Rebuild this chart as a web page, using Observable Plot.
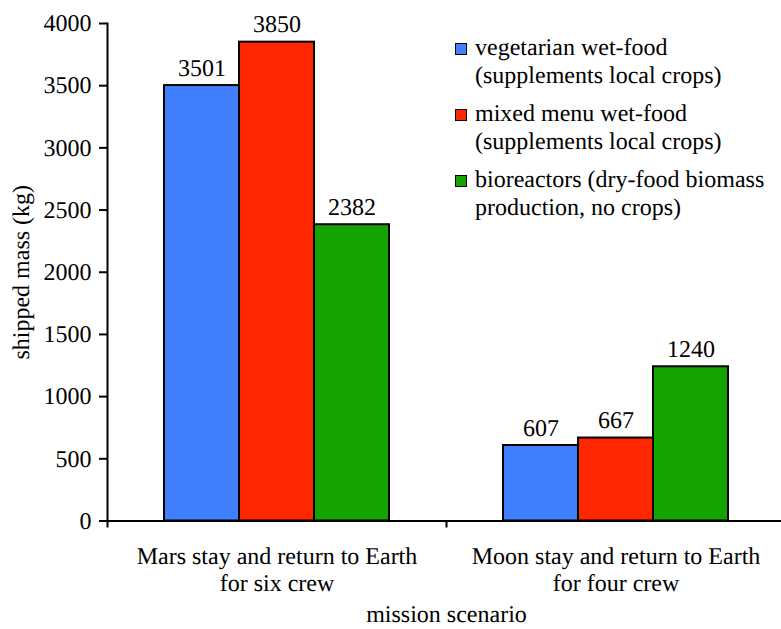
<!DOCTYPE html>
<html>
<head>
<meta charset="utf-8">
<script src="https://cdn.jsdelivr.net/npm/d3@7"></script>
<script src="https://cdn.jsdelivr.net/npm/@observablehq/plot@0.6"></script>
<style>
  html, body { margin: 0; padding: 0; background: #fff; }
  #wrap { position: relative; width: 781px; height: 629px; overflow: hidden; font-family: "Liberation Serif", "Times New Roman", serif; text-rendering: geometricPrecision; }
  #wrap svg, #wrap svg text { text-rendering: geometricPrecision; }
  #legend { position: absolute; left: 455px; top: 34px; font-size: 24px; line-height: 28px; color: #000; }
  .item { position: relative; padding-left: 20px; margin-bottom: 10px; white-space: pre; }
  .sw { position: absolute; left: 0; top: 9px; width: 10px; height: 10px; border: 1.5px solid #000; }
</style>
</head>
<body>
<div id="wrap"><div id="legend"></div></div>
<script>
// Data
const scenarios = ["Mars stay and return to Earth\nfor six crew", "Moon stay and return to Earth\nfor four crew"];
const series = ["vegetarian wet-food\n(supplements local crops)", "mixed menu wet-food\n(supplements local crops)", "bioreactors (dry-food biomass\nproduction, no crops)"];
const colors = ["#4080ff", "#ff2600", "#14a300"];
const marsValues = [3501, 3850, 2382];
const moonValues = [607, 667, 1240];
const yTicks = [0, 500, 1000, 1500, 2000, 2500, 3000, 3500, 4000];

const valuesByScenario = [marsValues, moonValues];
const data = [];
scenarios.forEach((s, i) => series.forEach((k, j) => data.push({scenario: s, series: k, value: valuesByScenario[i][j]})));

const W = 781, H = 629, ML = 107, MR = -4;
const facetBand = (W - MR - ML) / scenarios.length;

const chart = Plot.plot({
  width: W, height: H,
  marginLeft: ML, marginRight: MR, marginTop: 23, marginBottom: 108.5,
  style: {fontFamily: "Liberation Serif, Times New Roman, serif", fontSize: "24px", background: "white", color: "black", overflow: "hidden"},
  fx: {domain: scenarios, padding: 0},
  x: {domain: series, paddingInner: 0, paddingOuter: 0.74, axis: null},
  y: {domain: [0, 4000]},
  color: {domain: series, range: colors},
  marks: [
    Plot.barY(data, {fx: "scenario", x: "series", y: "value", fill: "series", stroke: "black", strokeWidth: 2}),
    Plot.text(data, {fx: "scenario", x: "series", y: "value", text: d => String(d.value), lineAnchor: "bottom", dy: -10, fill: "black", fontSize: 24}),
    Plot.ruleY([0], {stroke: "black", strokeWidth: 2}),
    Plot.frame({anchor: "left", facetAnchor: "left", stroke: "black", strokeWidth: 2}),
    Plot.axisY({ticks: yTicks, tickFormat: d => String(d), tickSize: 8, tickPadding: 8, strokeWidth: 2, fontSize: 24, label: "shipped mass (kg)", labelAnchor: "center", labelOffset: 96, labelArrow: "none"}),
    Plot.axisFx({anchor: "bottom", tickSize: 0, tickPadding: 24, lineHeight: 1.13, fontSize: 24, label: "mission scenario", labelAnchor: "center", labelOffset: 101}),
    Plot.axisFx({anchor: "bottom", tickSize: 7, strokeWidth: 2, tickFormat: () => "", dx: -facetBand / 2, label: null})
  ]
});
document.getElementById("wrap").prepend(chart);

const legend = document.getElementById("legend");
series.forEach((k, j) => {
  const it = document.createElement("div");
  it.className = "item";
  const sw = document.createElement("span");
  sw.className = "sw";
  sw.style.background = colors[j];
  it.appendChild(sw);
  it.appendChild(document.createTextNode(k));
  legend.appendChild(it);
});
</script>
</body>
</html>
